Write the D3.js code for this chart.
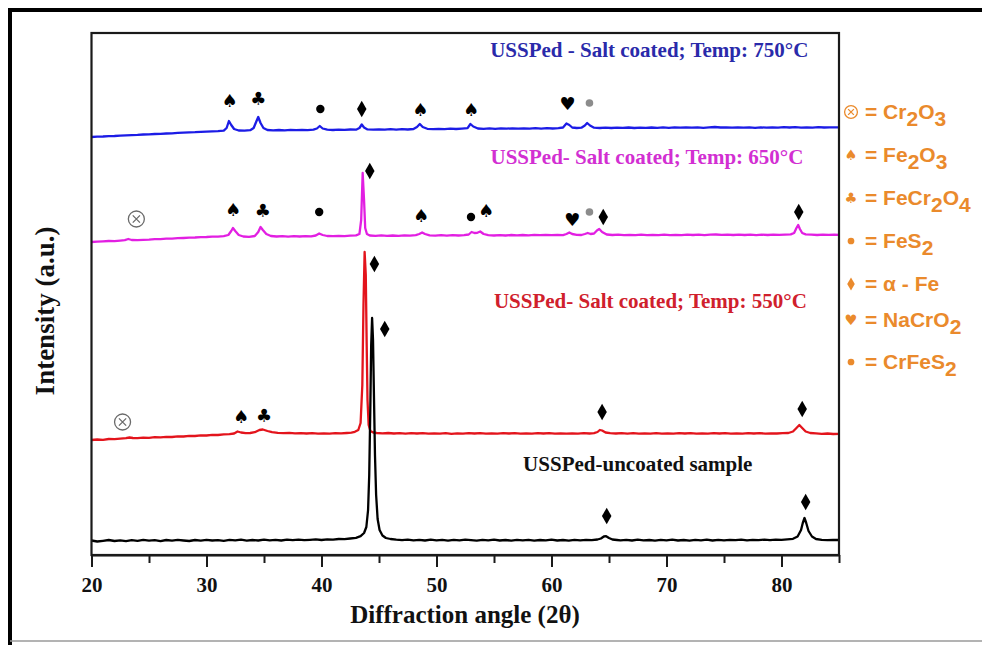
<!DOCTYPE html>
<html>
<head>
<meta charset="utf-8">
<script src="https://cdn.jsdelivr.net/npm/d3@7"></script>
<style>
  html, body { margin: 0; padding: 0; background: #ffffff; }
  svg { display: block; }
</style>
</head>
<body>
<svg id="chart" width="982" height="645"></svg>
<script>
// XRD patterns: [2θ, intensity (a.u.)] per sample, stacked by a vertical offset
const uncoated = [
[20,14.5],[20.5,13.5],[21,14.2],[21.5,15],[22,14],[22.5,14.6],[23,13.8],[23.5,14.8],[24,14.2],[24.5,15.2],[25,14.4],[25.5,14.8],[26,13.9],[26.5,15],[27,14.3],[27.5,15.1],[28,14.5],[28.5,14],[29,15],[29.5,14.4],[30,15.2],[30.5,14.5],[31,14.9],[31.5,14.2],[32,15.1],[32.5,14.6],[33,15.3],[33.5,14.4],[34,15],[34.5,14.5],[35,15.4],[35.5,14.7],[36,15.1],[36.5,14.5],[37,15.3],[37.5,14.8],[38,15.4],[38.5,14.9],[39,15.2],[39.5,15.6],[40,15],[40.5,15.7],[41,15.4],[41.5,16],[42,15.8],[42.5,16.5],[43,17.2],[43.4,18.8],[43.7,22],[43.9,28],[44.05,45],[44.15,80],[44.25,150],[44.32,210],[44.4,237],[44.48,215],[44.56,160],[44.65,100],[44.75,60],[44.88,36],[45.05,25],[45.3,19.5],[45.6,17],[46,16],[46.5,15.3],[47,14.8],[47.5,15.4],[48,14.6],[48.5,15.2],[49,14.5],[49.5,15.3],[50,14.7],[50.5,15.1],[51,14.4],[51.5,15.2],[52,14.6],[52.5,15.4],[53,14.8],[53.5,14.3],[54,15.2],[54.5,14.6],[55,15.3],[55.5,14.5],[56,15],[56.5,14.4],[57,15.2],[57.5,14.7],[58,15.1],[58.5,14.3],[59,15],[59.5,14.6],[60,15.3],[60.5,14.5],[61,15],[61.5,14.4],[62,15.2],[62.5,14.7],[63,15.1],[63.5,14.8],[64,15.5],[64.3,16.5],[64.55,18.5],[64.75,18.8],[65,17],[65.3,15.5],[65.7,15],[66,14.6],[66.5,15.2],[67,14.5],[67.5,15.3],[68,14.7],[68.5,15],[69,14.4],[69.5,15.2],[70,14.6],[70.5,15.3],[71,14.5],[71.5,15],[72,14.4],[72.5,15.2],[73,14.7],[73.5,15.3],[74,14.5],[74.5,15.1],[75,14.6],[75.5,15.2],[76,14.8],[76.5,15.4],[77,14.7],[77.5,15.2],[78,14.9],[78.5,15.3],[79,14.8],[79.5,15.4],[80,15.1],[80.5,15.6],[81,16.2],[81.4,18.5],[81.7,25],[81.85,32],[82.0,37],[82.15,32],[82.35,24],[82.65,18.5],[83,16],[83.5,15.2],[84,14.8],[84.5,15.1],[85,15]
];

const coated550 = [
[20,5],[20.5,5.5],[21,5.2],[21.5,6],[22,5.8],[22.5,6.4],[23,6.8],[23.3,7.5],[23.6,7],[24,6.9],[24.5,7.4],[25,7.2],[25.5,7.8],[26,7.6],[26.5,8.2],[27,8],[27.5,8.6],[28,8.5],[28.5,9.1],[29,9],[29.5,9.6],[30,9.5],[30.5,10.1],[31,10],[31.5,10.6],[32,10.8],[32.4,11.5],[32.7,13.5],[33,12.5],[33.4,11.8],[33.8,12],[34.2,12.8],[34.6,15],[34.9,15.5],[35.3,14],[35.7,12.8],[36.2,12.2],[36.7,11.8],[37.2,12.1],[37.7,11.6],[38.2,11.9],[38.7,11.5],[39.2,11.8],[39.7,11.4],[40.2,11.7],[40.7,11.3],[41.2,11.8],[41.7,11.6],[42.2,12],[42.6,12.4],[42.9,13.2],[43.2,15],[43.4,22],[43.55,60],[43.65,140],[43.75,193],[43.85,170],[43.93,100],[44.0,45],[44.1,20],[44.25,14],[44.5,12.5],[44.8,12],[45.3,11.6],[45.8,12],[46.3,11.5],[46.8,11.9],[47.3,11.4],[47.8,11.8],[48.3,11.5],[48.8,11.9],[49.3,11.3],[49.8,11.7],[50.3,11.4],[50.8,11.8],[51.3,11.2],[51.8,11.7],[52.3,11.4],[52.8,11.9],[53.3,11.5],[53.8,11.8],[54.3,11.3],[54.8,11.7],[55.3,11.4],[55.8,11.9],[56.3,11.5],[56.8,11.8],[57.3,11.3],[57.8,11.6],[58.3,11.4],[58.8,11.8],[59.3,11.5],[59.8,11.9],[60.3,11.4],[60.8,11.7],[61.3,11.3],[61.8,11.7],[62.3,11.4],[62.8,11.8],[63.3,11.5],[63.7,11.9],[64.0,13],[64.2,15],[64.4,14.5],[64.7,12.5],[65.1,11.8],[65.6,11.5],[66.1,11.9],[66.6,11.4],[67.1,11.8],[67.6,11.3],[68.1,11.7],[68.6,11.4],[69.1,11.8],[69.6,11.3],[70.1,11.7],[70.6,11.4],[71.1,11.8],[71.6,11.5],[72.1,11.9],[72.6,11.4],[73.1,11.7],[73.6,11.3],[74.1,11.8],[74.6,11.5],[75.1,11.8],[75.6,11.4],[76.1,11.7],[76.6,11.3],[77.1,11.8],[77.6,11.5],[78.1,11.8],[78.6,11.4],[79.1,11.7],[79.6,11.5],[80.1,11.9],[80.6,12],[81.0,13.5],[81.3,17],[81.55,20],[81.8,17],[82.1,13.5],[82.5,12],[83,11.6],[83.5,11.2],[84,11.5],[84.5,11],[85,11.2]
];

const coated650 = [
[20,8],[20.5,8.3],[21,8.6],[21.5,9],[22,8.9],[22.5,9.4],[22.9,9.8],[23.2,11],[23.5,10],[24,9.8],[24.5,10.2],[25,10.4],[25.5,10.8],[26,10.9],[26.5,11.3],[27,11.4],[27.5,11.8],[28,12],[28.5,12.3],[29,12.5],[29.5,12.9],[30,13],[30.5,13.3],[31,13.4],[31.5,13.8],[31.9,15],[32.15,19],[32.3,22],[32.5,19],[32.8,15],[33.2,13.5],[33.7,13.2],[34.2,14],[34.5,18],[34.7,23],[34.9,20],[35.2,16],[35.6,14],[36.1,13.5],[36.6,13.9],[37.1,13.4],[37.6,13.8],[38.1,13.5],[38.6,13.9],[39.1,13.6],[39.5,14.5],[39.8,16.5],[40.1,15],[40.5,14],[41,13.8],[41.5,14.2],[42,13.9],[42.5,14.3],[43,14.6],[43.3,16],[43.45,30],[43.58,77],[43.7,50],[43.8,22],[43.95,16],[44.2,14.5],[44.7,14.2],[45.2,14.6],[45.7,14.1],[46.2,14.5],[46.7,14.2],[47.2,14.6],[47.7,14.3],[48.2,14.8],[48.5,16],[48.75,17.5],[49,16],[49.4,14.6],[49.9,14.3],[50.4,14.8],[50.9,14.4],[51.4,14.9],[51.9,14.5],[52.4,14.8],[52.8,15.5],[53.05,18],[53.3,17],[53.55,17.2],[53.8,18.5],[54.1,16],[54.5,14.8],[55,14.5],[55.5,14.9],[56,14.5],[56.5,15],[57,14.6],[57.5,15],[58,14.7],[58.5,15.1],[59,14.8],[59.5,15.2],[60,14.8],[60.5,15.1],[61,14.9],[61.3,16],[61.55,17.5],[61.8,16],[62.2,15.2],[62.6,15],[62.9,16],[63.15,17],[63.4,16],[63.7,16.5],[63.95,19.5],[64.15,21],[64.4,18],[64.8,15.5],[65.3,15],[65.8,15.3],[66.3,14.9],[66.8,15.2],[67.3,14.8],[67.8,15.3],[68.3,14.9],[68.8,15.2],[69.3,14.8],[69.8,15.3],[70.3,14.9],[70.8,15.2],[71.3,14.8],[71.8,15.3],[72.3,15],[72.8,15.4],[73.3,14.9],[73.8,15.3],[74.3,15.5],[74.8,15.1],[75.3,15.4],[75.8,15],[76.3,15.4],[76.8,15],[77.3,15.3],[77.8,14.9],[78.3,15.3],[78.8,15],[79.3,15.4],[79.8,15.1],[80.3,15.4],[80.8,15.6],[81.1,17],[81.3,22],[81.45,25],[81.6,21],[81.8,17],[82.1,15.6],[82.6,15.3],[83.1,15],[83.6,15.4],[84.1,15.1],[84.6,15.3],[85,15.2]
];

const coated750 = [
[20,8],[20.5,8.3],[21,8.5],[21.5,8.9],[22,9],[22.5,9.4],[23,9.6],[23.5,9.9],[24,10.1],[24.5,10.5],[25,10.6],[25.5,11],[26,11.2],[26.5,11.5],[27,11.7],[27.5,12.1],[28,12.3],[28.5,12.6],[29,12.8],[29.5,13.2],[30,13.4],[30.5,13.7],[31,13.9],[31.5,14.3],[31.75,17],[31.95,24],[32.15,20],[32.4,16],[32.8,14.5],[33.3,14.3],[33.8,14.8],[34.1,17],[34.35,24],[34.5,28],[34.7,22],[34.95,17],[35.3,15],[35.8,14.6],[36.3,15],[36.8,14.7],[37.3,15.1],[37.8,14.8],[38.3,15.2],[38.8,14.9],[39.3,15.3],[39.6,16.5],[39.85,19],[40.1,16.5],[40.5,15.3],[41,15],[41.5,15.4],[42,15.1],[42.5,15.5],[43,15.3],[43.3,17],[43.5,20.5],[43.7,17.5],[44,15.6],[44.5,15.3],[45,15.7],[45.5,15.4],[46,15.8],[46.5,15.4],[47,15.9],[47.5,15.5],[48,16],[48.3,18],[48.55,21],[48.8,18],[49.2,16.2],[49.7,15.8],[50.2,16.2],[50.7,15.9],[51.2,16.3],[51.7,16],[52.2,16.4],[52.7,16.8],[52.95,21],[53.2,18.5],[53.6,16.5],[54.1,16.2],[54.6,16.6],[55.1,16.2],[55.6,16.6],[56.1,16.3],[56.6,16.7],[57.1,16.3],[57.6,16.7],[58.1,16.4],[58.6,16.8],[59.1,16.4],[59.6,16.8],[60.1,16.5],[60.6,16.9],[61,17.5],[61.3,21.5],[61.55,20],[61.8,17.5],[62.2,17],[62.6,17.3],[62.9,19.5],[63.1,22],[63.35,19.5],[63.7,17.3],[64.2,17],[64.7,17.4],[65.2,17],[65.7,17.4],[66.2,17.1],[66.7,17.5],[67.2,17],[67.7,17.4],[68.2,17.1],[68.7,17.5],[69.2,17.2],[69.7,17.6],[70.2,17.2],[70.7,17.6],[71.2,17.3],[71.7,17.7],[72.2,17.3],[72.7,17.6],[73.2,17.2],[73.7,17.6],[74.2,18],[74.7,17.5],[75.2,17.7],[75.7,17.3],[76.2,17.7],[76.7,17.3],[77.2,17.6],[77.7,17.2],[78.2,17.6],[78.7,17.3],[79.2,17.7],[79.7,17.4],[80.2,17.8],[80.7,17.5],[81.2,17.8],[81.7,17.4],[82.2,17.7],[82.7,17.4],[83.2,17.8],[83.7,17.5],[84.2,17.7],[85,17.6]
];

// vertical stacking offsets (a.u.)
const seriesNames = ["uncoated", "550", "650", "750"];
const seriesOffsets = [0, 110, 305, 410];
const seriesColors = ["#000000", "#e3141c", "#e21fe2", "#1c1ce6"];
const seriesData = [uncoated, coated550, coated650, coated750];

// sample captions
const captionText = [
  "USSPed-uncoated sample",
  "USSPed- Salt coated; Temp: 550°C",
  "USSPed- Salt coated; Temp: 650°C",
  "USSPed - Salt coated; Temp: 750°C"
];
const captionColors = ["#111111", "#d0202c", "#d22fd2", "#2a2aaa"];
const captionAngle = [67.5, 68.6, 68.3, 68.5];
const captionLevel = [84, 247, 391, 498];

// phase markers: [series index, phase, 2θ, marker level (a.u.)]
const phaseMarks = [
  [3, "spade", 32.0, 455], [3, "club", 34.5, 457], [3, "dot", 39.9, 446], [3, "diamond", 43.5, 446],
  [3, "spade", 48.6, 446], [3, "spade", 53.0, 446], [3, "heart", 61.4, 452], [3, "grey", 63.3, 452],
  [2, "oxide", 23.9, 336], [2, "spade", 32.3, 346], [2, "club", 34.9, 345], [2, "dot", 39.8, 343],
  [2, "diamond", 44.2, 384], [2, "spade", 48.65, 340], [2, "dot", 53.0, 338], [2, "spade", 54.3, 345],
  [2, "heart", 61.8, 336], [2, "grey", 63.3, 343], [2, "diamond", 64.5, 338], [2, "diamond", 81.5, 343],
  [1, "oxide", 22.7, 133], [1, "spade", 33.0, 139], [1, "club", 35.0, 140], [1, "diamond", 44.6, 291],
  [1, "diamond", 64.4, 143], [1, "diamond", 81.8, 146],
  [0, "diamond", 45.5, 226], [0, "diamond", 64.8, 39], [0, "diamond", 82.1, 53]
];

// phase key
const keyPhases = ["oxide", "spade", "club", "dot", "diamond", "heart", "dot"];
const keyLabels = [
  [["Cr", 0], ["2", 1], ["O", 0], ["3", 1]],
  [["Fe", 0], ["2", 1], ["O", 0], ["3", 1]],
  [["FeCr", 0], ["2", 1], ["O", 0], ["4", 1]],
  [["FeS", 0], ["2", 1]],
  [["α - Fe", 0]],
  [["NaCrO", 0], ["2", 1]],
  [["CrFeS", 0], ["2", 1]]
];

const xTicks = [20, 30, 40, 50, 60, 70, 80];
const xMinorTicks = [25, 35, 45, 55, 65, 75, 85];

const svg = d3.select("#chart");
const margin = { left: 91.5, right: 839, top: 33, bottom: 555 };

const x = d3.scaleLinear().domain([20, 85]).range([margin.left, margin.right]);
const y = d3.scaleLinear().domain([0, 522]).range([margin.bottom, margin.top]);

const serif = "'Liberation Serif', 'Times New Roman', Times, serif";
const sans = "'Liberation Sans', Arial, Helvetica, sans-serif";

// outer figure frame
svg.append("rect").attr("x", 0).attr("y", 0).attr("width", 982).attr("height", 645).attr("fill", "#ffffff");
svg.append("line").attr("x1", 8).attr("x2", 982).attr("y1", 10).attr("y2", 10)
  .attr("stroke", "#000").attr("stroke-width", 4);
svg.append("line").attr("x1", 10).attr("x2", 10).attr("y1", 8).attr("y2", 645)
  .attr("stroke", "#000").attr("stroke-width", 4);
svg.append("line").attr("x1", 10).attr("x2", 982).attr("y1", 641).attr("y2", 641)
  .attr("stroke", "#9a9a9a").attr("stroke-width", 1.5);

// traces
const line = d3.line().x(d => x(d[0])).y(d => d[1]);
const drawOrder = [1, 2, 3, 0];
drawOrder.forEach(i => {
  const pts = seriesData[i].map(d => [d[0], y(seriesOffsets[i] + d[1])]);
  svg.append("path")
    .attr("d", line(pts))
    .attr("fill", "none")
    .attr("stroke", seriesColors[i])
    .attr("stroke-width", 2.3)
    .attr("stroke-linejoin", "round");
});

// plot frame
svg.append("rect")
  .attr("x", margin.left).attr("y", margin.top)
  .attr("width", margin.right - margin.left).attr("height", margin.bottom - margin.top)
  .attr("fill", "none").attr("stroke", "#1a1a1a").attr("stroke-width", 2.2);

// x axis
const xAxis = d3.axisBottom(x).tickValues(xTicks).tickSize(12).tickSizeOuter(0).tickPadding(10).tickFormat(d3.format("d"));
const gx = svg.append("g").attr("transform", `translate(0,${margin.bottom})`).call(xAxis);
gx.select(".domain").attr("stroke", "#1a1a1a").attr("stroke-width", 2.2);
gx.selectAll(".tick line").attr("stroke", "#1a1a1a").attr("stroke-width", 2);
gx.selectAll(".tick text").attr("fill", "#111").attr("font-family", serif)
  .attr("font-weight", "bold").attr("font-size", 21);
const gxm = svg.append("g").attr("transform", `translate(0,${margin.bottom})`)
  .call(d3.axisBottom(x).tickValues(xMinorTicks).tickSize(8).tickFormat(""));
gxm.select(".domain").remove();
gxm.selectAll(".tick line").attr("stroke", "#1a1a1a").attr("stroke-width", 2);

// axis titles
svg.append("text").attr("x", 465).attr("y", 623).attr("text-anchor", "middle")
  .attr("font-family", serif).attr("font-weight", "bold").attr("font-size", 25).attr("fill", "#111")
  .text("Diffraction angle (2θ)");
svg.append("text").attr("transform", "translate(54,311) rotate(-90)").attr("text-anchor", "middle")
  .attr("font-family", serif).attr("font-weight", "bold").attr("font-size", 27).attr("fill", "#111")
  .text("Intensity (a.u.)");

// captions
captionText.forEach((t, i) => {
  svg.append("text").attr("x", x(captionAngle[i])).attr("y", y(captionLevel[i]))
    .attr("text-anchor", "middle").attr("font-family", serif).attr("font-weight", "bold")
    .attr("font-size", 21).attr("fill", captionColors[i]).text(t);
});

// glyph drawing for phase markers
function drawPhase(g, phase, cx, cy, color, scale) {
  const s = scale || 1;
  if (phase === "diamond") {
    g.append("path").attr("d", d3.symbol(d3.symbolDiamond, 78 * s * s)())
      .attr("transform", `translate(${cx},${cy})`).attr("fill", color);
  } else if (phase === "dot") {
    g.append("circle").attr("cx", cx).attr("cy", cy).attr("r", 4.2 * s).attr("fill", color);
  } else if (phase === "grey") {
    g.append("circle").attr("cx", cx).attr("cy", cy).attr("r", 3.8 * s).attr("fill", "#8c8c8c");
  } else if (phase === "oxide") {
    const r = 8 * s, k = r * 0.45;
    const col = color === "#000" ? "#6a6a6a" : color;
    g.append("circle").attr("cx", cx).attr("cy", cy).attr("r", r).attr("fill", "none")
      .attr("stroke", col).attr("stroke-width", 1.3);
    g.append("path").attr("d", `M${cx - k},${cy - k}L${cx + k},${cy + k}M${cx - k},${cy + k}L${cx + k},${cy - k}`)
      .attr("stroke", col).attr("stroke-width", 1.3);
  } else {
    const ch = phase === "spade" ? "\u2660" : phase === "club" ? "\u2663" : "\u2665";
    g.append("text").attr("x", cx).attr("y", cy).attr("text-anchor", "middle")
      .attr("dominant-baseline", "central").attr("font-family", "'DejaVu Sans', sans-serif")
      .attr("font-size", 18 * s).attr("fill", color).text(ch);
  }
}

const gm = svg.append("g");
phaseMarks.forEach(m => drawPhase(gm, m[1], x(m[2]), y(m[3]), "#000"));

// phase key
const keyColor = "#ea8a2c";
const keyY = [112, 155, 198, 241, 284, 320, 362];
const gk = svg.append("g");
keyPhases.forEach((p, i) => {
  drawPhase(gk, p, 851, keyY[i], keyColor, 0.8);
  const t = gk.append("text").attr("x", 865).attr("y", keyY[i] + 7)
    .attr("font-family", sans).attr("font-weight", "bold").attr("font-size", 21).attr("fill", keyColor);
  t.append("tspan").text("= ");
  let shift = 0;
  keyLabels[i].forEach(([s, sub]) => {
    const dy = sub ? 7 - shift : -shift;
    shift = sub ? 7 : 0;
    t.append("tspan").attr("dy", dy).text(s);
  });
});
</script>
</body>
</html>
